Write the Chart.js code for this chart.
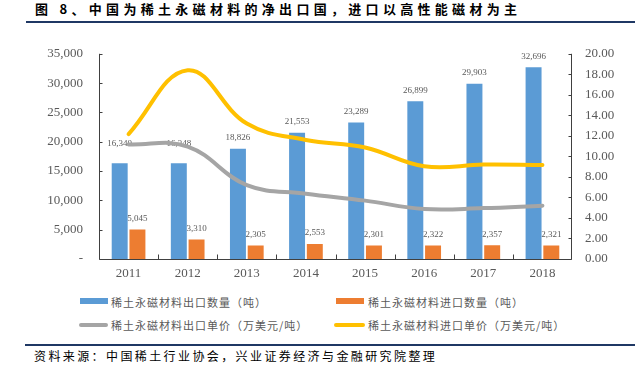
<!DOCTYPE html>
<html><head><meta charset="utf-8">
<script src="https://cdn.jsdelivr.net/npm/chart.js@4.4.1/dist/chart.umd.min.js"></script>
<style>
html,body{margin:0;padding:0;background:#fff;}
body{width:635px;height:375px;position:relative;overflow:hidden;font-family:"Noto Sans CJK SC",sans-serif;}
.abs{position:absolute;white-space:nowrap;}
#title{left:35px;top:0px;font-size:13px;font-weight:bold;line-height:17px;letter-spacing:4.3px;color:#000;}
#tline{left:26px;top:21px;width:609px;height:2px;background:#1F3864;}
#wrap{left:0;top:30px;width:635px;height:260px;}
.lg{font-size:11px;line-height:14px;letter-spacing:1px;color:#595959;}
#sline{left:25px;top:344px;width:610px;height:2px;background:#1F3864;}
#src{left:34px;top:348px;font-size:12px;line-height:16px;letter-spacing:2.4px;color:#000;}
</style></head>
<body>
<div id="title" class="abs">图 8、中国为稀土永磁材料的净出口国，进口以高性能磁材为主</div>
<div id="tline" class="abs"></div>
<div id="wrap" class="abs"><canvas id="c" width="635" height="260"></canvas></div>

<div class="abs" style="left:80px;top:298px;width:28px;height:6px;background:#5B9BD5;"></div>
<div class="abs lg" id="lg0" style="left:111px;top:295px;"></div>
<div class="abs" style="left:336px;top:298px;width:28px;height:6px;background:#ED7D31;"></div>
<div class="abs lg" id="lg1" style="left:368px;top:295px;"></div>
<div class="abs" style="left:79px;top:323px;width:29px;height:4px;border-radius:2px;background:#A5A5A5;"></div>
<div class="abs lg" id="lg2" style="left:111px;top:318px;"></div>
<div class="abs" style="left:334px;top:323px;width:31px;height:4px;border-radius:2px;background:#FFC000;"></div>
<div class="abs lg" id="lg3" style="left:368px;top:318px;"></div>

<div id="sline" class="abs"></div>
<div id="src" class="abs">资料来源：中国稀土行业协会，兴业证券经济与金融研究院整理</div>

<script>
const categories = ['2011','2012','2013','2014','2015','2016','2017','2018'];
const exportQty = [16340,16348,18826,21553,23289,26899,29903,32696];
const importQty = [5045,3310,2305,2553,2301,2322,2357,2321];
const exportPrice = [11.17,10.96,7.2,6.37,5.69,4.87,4.96,5.2];
const importPrice = [12.17,18.4,13.2,11.6,10.87,9.04,9.2,9.16];
const seriesNames = ['稀土永磁材料出口数量（吨）','稀土永磁材料进口数量（吨）','稀土永磁材料出口单价（万美元/吨）','稀土永磁材料进口单价（万美元/吨）'];

seriesNames.forEach((n,i)=>{document.getElementById('lg'+i).textContent=n;});

const numFont = '"Liberation Serif", "Times New Roman", serif';
const textGray = '#595959';

const labelPlugin = {
  id:'barLabels',
  beforeDatasetsDraw(chart, args, opts){
    const ctx = chart.ctx;
    ctx.save();
    ctx.font = '9px ' + numFont;
    ctx.fillStyle = textGray;
    ctx.textAlign = 'center';
    ctx.textBaseline = 'middle';
    [0,1].forEach(di=>{
      const meta = chart.getDatasetMeta(di);
      const data = chart.data.datasets[di].data;
      meta.data.forEach((el,i)=>{
        const lift = (opts.lift[di] && opts.lift[di][i]) || opts.defaultLift;
        ctx.fillText(data[i].toLocaleString('en-US'), el.x, el.y - lift);
      });
    });
    ctx.restore();
  }
};

const axisPlugin = {
  id:'axisMarks',
  afterDatasetsDraw(chart){
    const {ctx, chartArea:{left,right,top,bottom}, scales:{x,y,y1}} = chart;
    ctx.save();
    ctx.strokeStyle = '#404040';
    ctx.lineWidth = 1;
    ctx.beginPath();
    const L = Math.round(left)+0.5, R = Math.round(right)-0.5, B = Math.round(bottom)+0.5;
    ctx.moveTo(L, top); ctx.lineTo(L, B);
    ctx.moveTo(R, top); ctx.lineTo(R, B);
    ctx.moveTo(L, B); ctx.lineTo(R, B);
    y.ticks.forEach(t=>{const p=Math.round(y.getPixelForValue(t.value))+0.5; ctx.moveTo(L,p); ctx.lineTo(L+3,p);});
    y1.ticks.forEach(t=>{const p=Math.round(y1.getPixelForValue(t.value))+0.5; ctx.moveTo(R,p); ctx.lineTo(R-3,p);});
    for(let i=1;i<categories.length;i++){
      const p = Math.round((x.getPixelForValue(i-1)+x.getPixelForValue(i))/2)+0.5;
      ctx.moveTo(p,B); ctx.lineTo(p,B-5);
    }
    ctx.stroke();
    ctx.restore();
  }
};

new Chart(document.getElementById('c'), {
  type:'bar',
  data:{
    labels:categories,
    datasets:[
      {type:'bar', label:seriesNames[0], data:exportQty, backgroundColor:'#5B9BD5', yAxisID:'y', order:2, categoryPercentage:0.6, barPercentage:0.9},
      {type:'bar', label:seriesNames[1], data:importQty, backgroundColor:'#ED7D31', yAxisID:'y', order:2, categoryPercentage:0.6, barPercentage:0.9},
      {type:'line', label:seriesNames[2], data:exportPrice, borderColor:'#A5A5A5', backgroundColor:'#A5A5A5', borderWidth:4, tension:0.4, pointRadius:0, borderCapStyle:'round', yAxisID:'y1', order:1},
      {type:'line', label:seriesNames[3], data:importPrice, borderColor:'#FFC000', backgroundColor:'#FFC000', borderWidth:4, tension:0.4, pointRadius:0, borderCapStyle:'round', yAxisID:'y1', order:0}
    ]
  },
  options:{
    responsive:false,
    animation:false,
    devicePixelRatio:1,
    layout:{padding:{top:10,left:0,right:0,bottom:0}},
    plugins:{
      legend:{display:false},
      tooltip:{enabled:false},
      barLabels:{defaultLift:11, lift:{0:{0:20,1:20}}}
    },
    scales:{
      x:{
        grid:{display:false, drawTicks:false},
        border:{display:false},
        ticks:{font:{family:numFont,size:13}, color:textGray, padding:7},
        afterFit(s){ s.height = 31; }
      },
      y:{
        position:'left', min:0, max:35000,
        grid:{display:false, drawTicks:false},
        border:{display:false},
        ticks:{stepSize:5000, padding:16, font:{family:numFont,size:13}, color:textGray,
          callback:v=> v===0 ? '-' : Number(v).toLocaleString('en-US')},
        afterFit(s){ s.width = 99; }
      },
      y1:{
        position:'right', min:0, max:20,
        grid:{display:false, drawTicks:false},
        border:{display:false},
        ticks:{stepSize:2, padding:13, font:{family:numFont,size:13}, color:textGray,
          callback:v=> Number(v).toFixed(2)},
        afterFit(s){ s.width = 63; }
      }
    }
  },
  plugins:[labelPlugin, axisPlugin]
});
</script>
</body></html>
